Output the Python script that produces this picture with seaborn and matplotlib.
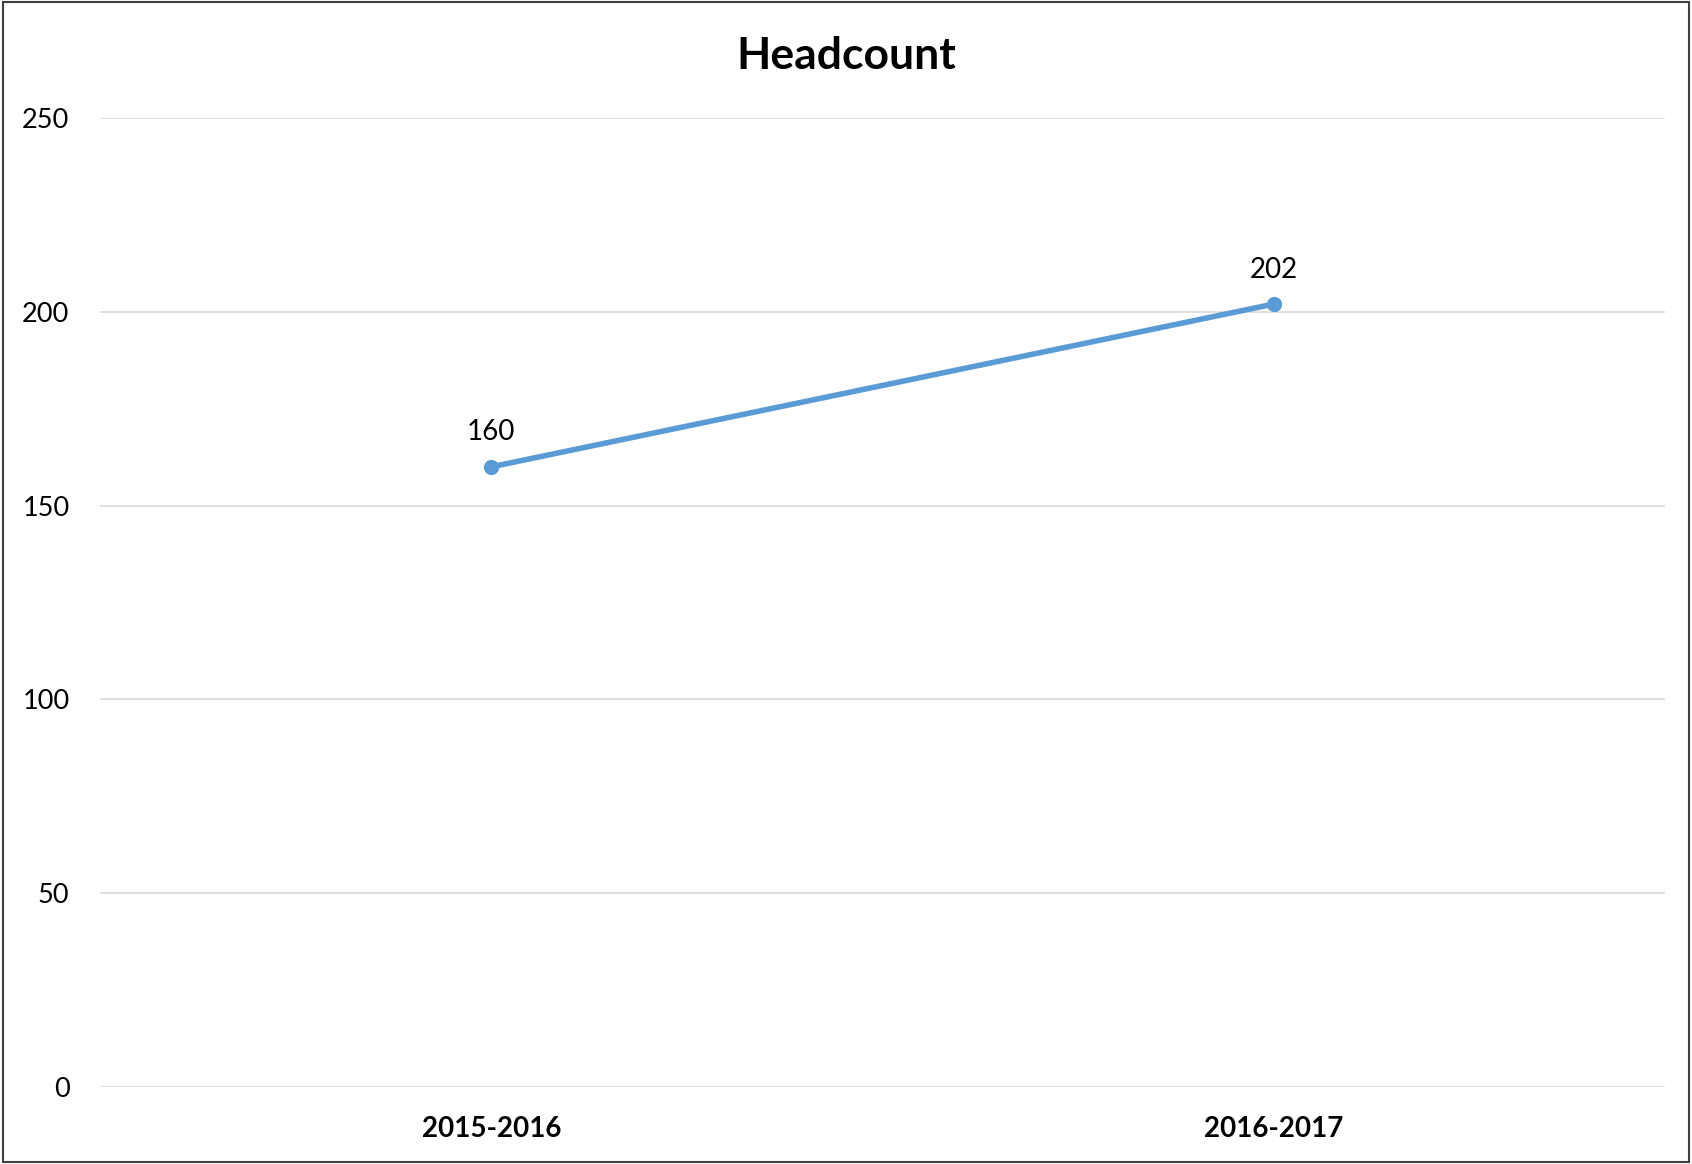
import matplotlib
matplotlib.use("Agg")
import matplotlib.pyplot as plt
import seaborn as sns
import pandas as pd
from matplotlib.patches import Rectangle

# data
years = ["2015-2016", "2016-2017"]
headcount = [160, 202]
yticks = [0, 50, 100, 150, 200, 250]

df = pd.DataFrame({"year": years, "headcount": headcount})

sns.set_theme(style="white")
plt.rcParams['font.family'] = ['Lato', 'DejaVu Sans']

fig = plt.figure(figsize=(16.92, 11.64), dpi=100)
ax = fig.add_axes([100 / 1692, 1 - 1087 / 1164, 1565 / 1692, (1087 - 118) / 1164])

sns.lineplot(data=df, x="year", y="headcount", ax=ax, color="#5B9BD5",
             linewidth=4, marker="o", markersize=11, markeredgewidth=0,
             sort=False)

# data labels
for i, v in enumerate(headcount):
    ax.annotate(str(v), (i, v), xytext=(0, 19), textcoords="offset points",
                ha="center", va="baseline", fontsize=20, color="black")

ax.set_xlim(-0.5, 1.5)
ax.set_ylim(0, 250)
ax.set_yticks(yticks)
ax.set_yticklabels([str(t) for t in yticks], fontsize=19.5, color="black")
ax.set_xticks(range(len(years)))
ax.set_xticklabels(years, fontsize=20, fontweight="bold", color="black")
ax.tick_params(axis="y", length=0, pad=22)
ax.tick_params(axis="x", length=0, pad=21)
ax.set_xlabel("")
ax.set_ylabel("")
ax.grid(axis="y", color="#D9D9D9", linewidth=1.2)
ax.set_axisbelow(True)
for s in ax.spines.values():
    s.set_visible(False)

fig.text(0.5, 1 - 69 / 1164, "Headcount", ha="center", va="baseline",
         fontsize=32, fontweight="bold", color="black")

# outer chart border
fig.patches.append(Rectangle((0.0015, 0.0015), 0.997, 0.997, transform=fig.transFigure,
                             fill=False, edgecolor="#404040", linewidth=1.5))

fig.savefig("out.png", dpi=100)
